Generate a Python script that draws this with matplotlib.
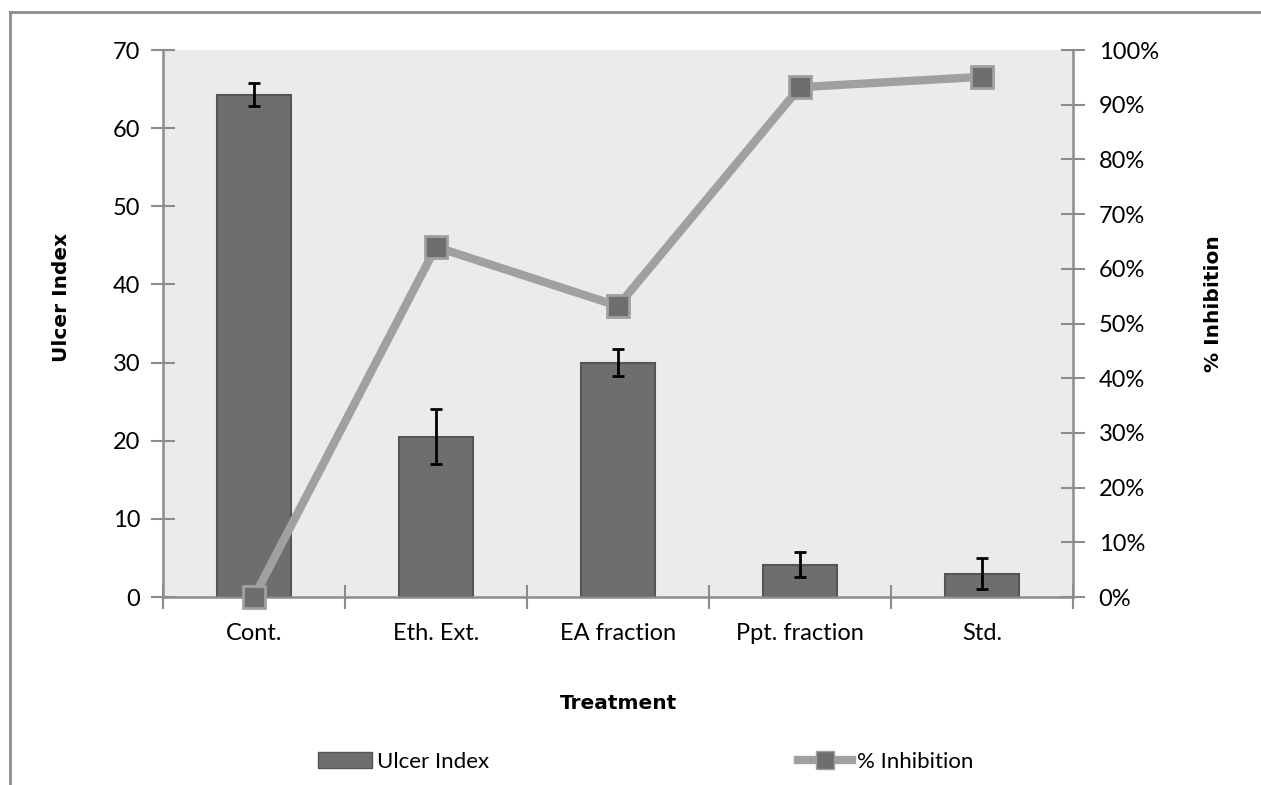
import numpy as np
import matplotlib.pyplot as plt
from matplotlib.lines import Line2D
from matplotlib.patches import Patch
from matplotlib.ticker import FuncFormatter

treatments = ['Cont.', 'Eth. Ext.', 'EA fraction', 'Ppt. fraction', 'Std.']
ulcer_index = [64.3, 20.5, 30.0, 4.1, 3.0]
ulcer_err = [1.5, 3.5, 1.7, 1.6, 2.0]
inhibition = [0.0, 0.64, 0.532, 0.932, 0.951]

plt.rcParams['font.family'] = ['Lato', 'DejaVu Sans']
grey_axis = '#8c8c8c'

fig = plt.figure(figsize=(12.61, 7.85), dpi=100)
ax = fig.add_axes([163 / 1261, 1 - 597 / 785, 910 / 1261, 547 / 785])
ax.set_facecolor('#ebebeb')

x = np.arange(len(treatments))
ax.bar(x, ulcer_index, width=0.41, color='#6e6e6e', edgecolor='#555555', linewidth=1.5, zorder=2)
ax.errorbar(x, ulcer_index, yerr=ulcer_err, fmt='none', ecolor='black',
            elinewidth=2, capsize=4.5, capthick=2, zorder=3)

ax.set_xlim(-0.5, len(treatments) - 0.5)
ax.set_ylim(0, 70)
ax.set_yticks(range(0, 71, 10))
ax.set_xticks(x)
ax.set_xticklabels(treatments)
ax.set_xticks(np.arange(-0.5, len(treatments), 1), minor=True)
ax.tick_params(axis='x', which='major', length=0, labelsize=17, pad=19)
ax.tick_params(axis='x', which='minor', direction='inout', length=17, width=1.5, color=grey_axis)
ax.tick_params(axis='y', direction='inout', length=17, width=1.5, color=grey_axis, labelsize=17, pad=8)
for s in ['top', 'right']:
    ax.spines[s].set_visible(False)
for s in ['left', 'bottom']:
    ax.spines[s].set_color(grey_axis)
    ax.spines[s].set_linewidth(1.8)

ax.set_ylabel('Ulcer Index', family='DejaVu Sans', fontweight='bold', fontsize=14.5, va='center')
ax.yaxis.set_label_coords(-0.112, 0.548)
ax.set_xlabel('Treatment', family='DejaVu Sans', fontweight='bold', fontsize=14.5, labelpad=36)

ax2 = ax.twinx()
ax2.plot(x, inhibition, color='#a0a0a0', linewidth=6, marker='s', markersize=16,
         markerfacecolor='#6e6e6e', markeredgecolor='#a0a0a0', markeredgewidth=2,
         clip_on=False, zorder=4)
ax2.set_ylim(0, 1)
ax2.set_yticks(np.arange(0, 1.01, 0.1))
ax2.yaxis.set_major_formatter(FuncFormatter(lambda v, p: f'{v * 100:.0f}%'))
ax2.tick_params(axis='y', direction='inout', length=17, width=1.5, color=grey_axis, labelsize=17, pad=10)
for s in ['top', 'left', 'bottom']:
    ax2.spines[s].set_visible(False)
ax2.spines['right'].set_color(grey_axis)
ax2.spines['right'].set_linewidth(1.8)
ax2.set_ylabel('% Inhibition', family='DejaVu Sans', fontweight='bold', fontsize=14.5, va='center')
ax2.yaxis.set_label_coords(1.154, 0.537)

# legends
h1 = Patch(facecolor='#6e6e6e', edgecolor='#555555')
h2 = Line2D([], [], color='#a0a0a0', linewidth=6, marker='s', markersize=13,
            markerfacecolor='#6e6e6e', markeredgecolor='#a0a0a0')
fig.legend([h1], ['Ulcer Index'], loc='center left', bbox_to_anchor=(298 / 1261, 1 - 762 / 785),
           frameon=False, fontsize=16, handlelength=2.45, handleheight=0.75, handletextpad=0.2)
fig.legend([h2], ['% Inhibition'], loc='center left', bbox_to_anchor=(778 / 1261, 1 - 762 / 785),
           frameon=False, fontsize=16, handlelength=2.45, handletextpad=0.2)

# chart border (top and left edges)
fig.add_artist(Line2D([10 / 1261, 10 / 1261], [0, 1 - 12 / 785], color='#8c8c8c', linewidth=2))
fig.add_artist(Line2D([10 / 1261, 1], [1 - 12 / 785, 1 - 12 / 785], color='#8c8c8c', linewidth=2))

fig.savefig('out.png', dpi=100)
